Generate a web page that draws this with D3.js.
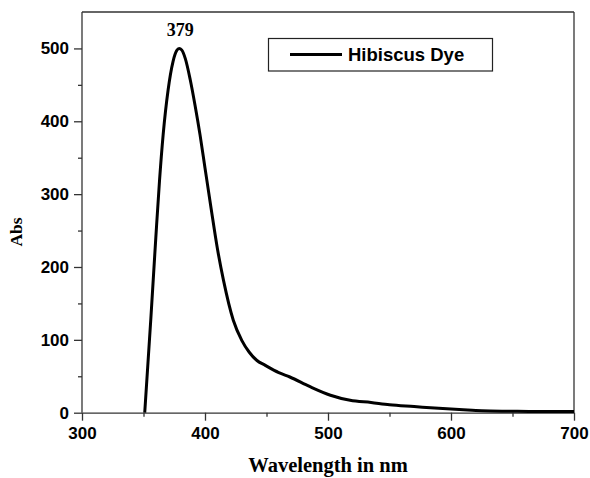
<!DOCTYPE html>
<html><head><meta charset="utf-8">
<script src="https://cdn.jsdelivr.net/npm/d3@7"></script>
<style>body{margin:0;background:#fff}svg{display:block}</style>
</head><body><svg id="c" width="590" height="478"></svg>
<script>
const wavelength = [351,356,360,363,366,370,374,377,379,381,384,388,392,396,400,405,410,415,423,430,436,442,449,460,469,485,502,518,535,550,570,590,610,625,648,670,700];
const absorbance = [0,130,240,318,382,443,482,497,500,498,486,457,421,381,336,280,226,182,127,99,83,72,65,55,49,36,24,17,14,11,8.5,6,4,2.7,2,1.5,1.5];
const xTicks = [300,400,500,600,700];
const yTicks = [0,100,200,300,400,500];
const seriesName = "Hibiscus Dye";
const peakLabel = "379";
const peakX = 379, peakY = 500;

const svg = d3.select("#c");
const L = 82, R = 574, T = 12, B = 412.7;
const x = d3.scaleLinear().domain([300,700]).range([L,R]);
const y = d3.scaleLinear().domain([0,550]).range([B,T]);
const axisColor = "#333";

svg.append("line").attr("x1",L).attr("x2",R).attr("y1",T).attr("y2",T).attr("stroke",axisColor).attr("stroke-width",1.3);
svg.append("line").attr("x1",R).attr("x2",R).attr("y1",T).attr("y2",B).attr("stroke",axisColor).attr("stroke-width",1.3);

function styleAxis(g){
  g.select(".domain").attr("stroke",axisColor).attr("stroke-width",1.3);
  g.selectAll(".tick line").attr("stroke",axisColor).attr("stroke-width",1.3);
  g.selectAll("text").attr("font-family","Liberation Sans, Arial, sans-serif").attr("font-weight","bold").attr("font-size","17px").attr("fill","#000");
}
const xMinor = d3.range(350,700,100);
const yMinor = d3.range(50,550,100);
const gxm = svg.append("g").attr("transform",`translate(0,${B})`).call(d3.axisBottom(x).tickValues(xMinor).tickSize(4).tickFormat(""));
gxm.select(".domain").remove(); gxm.selectAll("line").attr("stroke",axisColor).attr("stroke-width",1.3);
const gym = svg.append("g").attr("transform",`translate(${L},0)`).call(d3.axisLeft(y).tickValues(yMinor).tickSize(4).tickFormat(""));
gym.select(".domain").remove(); gym.selectAll("line").attr("stroke",axisColor).attr("stroke-width",1.3);

const gx = svg.append("g").attr("transform",`translate(0,${B})`)
  .call(d3.axisBottom(x).tickValues(xTicks).tickSize(8).tickPadding(6).tickSizeOuter(0));
styleAxis(gx);
const gy = svg.append("g").attr("transform",`translate(${L},0)`)
  .call(d3.axisLeft(y).tickValues(yTicks).tickSize(8).tickPadding(5).tickSizeOuter(0));
styleAxis(gy);
gy.select(".domain").attr("d",`M0,${B}V${T}`);

svg.append("path").datum(wavelength.map((w,i)=>[w,absorbance[i]]))
  .attr("fill","none").attr("stroke","#000").attr("stroke-width",3).attr("stroke-linejoin","round")
  .attr("d",d3.line().x(d=>x(d[0])).y(d=>y(d[1])).curve(d3.curveMonotoneX));

svg.append("text").attr("x",x(peakX)+1).attr("y",y(peakY)-12.5).attr("text-anchor","middle")
  .attr("font-family","Liberation Serif, Times New Roman, serif").attr("font-weight","bold").attr("font-size","18px").text(peakLabel);

svg.append("rect").attr("x",268.5).attr("y",38.5).attr("width",224).attr("height",32.5)
  .attr("fill","#fff").attr("stroke","#222").attr("stroke-width",1.2);
svg.append("line").attr("x1",290).attr("x2",342).attr("y1",54.5).attr("y2",54.5).attr("stroke","#000").attr("stroke-width",3);
svg.append("text").attr("x",348).attr("y",61).attr("font-family","Liberation Sans, Arial, sans-serif")
  .attr("font-weight","bold").attr("font-size","18.5px").text(seriesName);

svg.append("text").attr("x",328).attr("y",472).attr("text-anchor","middle")
  .attr("font-family","Liberation Serif, Times New Roman, serif").attr("font-weight","bold").attr("font-size","20.5px").text("Wavelength in nm");
svg.append("text").attr("transform","translate(22,232) rotate(-90)").attr("text-anchor","middle")
  .attr("font-family","Liberation Serif, Times New Roman, serif").attr("font-weight","bold").attr("font-size","17.5px").text("Abs");
</script></body></html>
